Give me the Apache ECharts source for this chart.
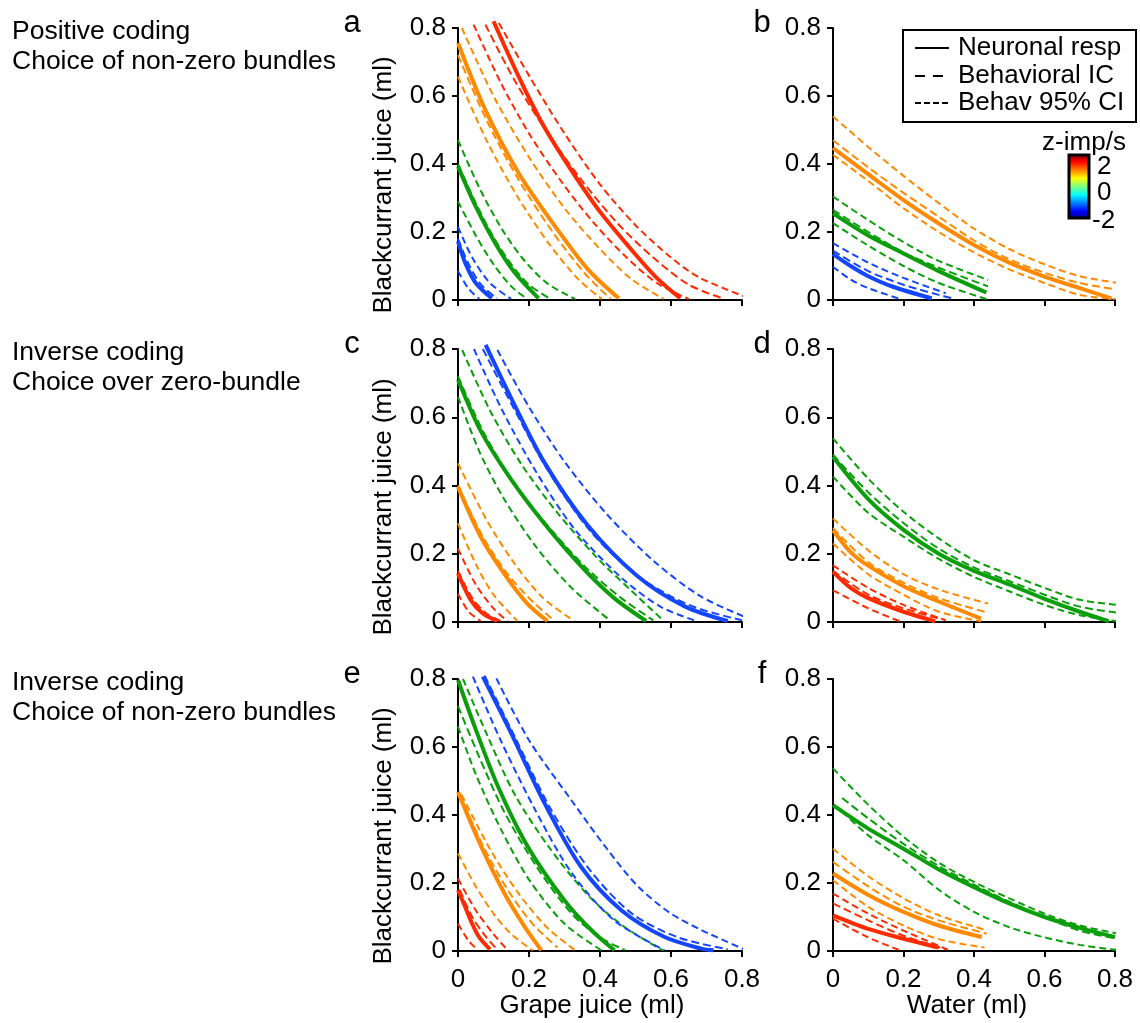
<!DOCTYPE html>
<html>
<head>
<meta charset="utf-8">
<script src="https://cdn.jsdelivr.net/npm/echarts@6/dist/echarts.min.js"></script>
<style>
html,body{margin:0;padding:0;background:#fff;}
#chart{width:1140px;height:1023px;}
</style>
</head>
<body>
<div id="chart"></div>
<script>
// ---- tick labels ----
const xTicks = [0, 0.2, 0.4, 0.6, 0.8];
const yTicks = [0, 0.2, 0.4, 0.6, 0.8];
const panelLetters = ['a', 'b', 'c', 'd', 'e', 'f'];
const rowTitles = [['Positive coding', 'Choice of non-zero bundles'], ['Inverse coding', 'Choice over zero-bundle'], ['Inverse coding', 'Choice of non-zero bundles']];
const xNames = ['Grape juice (ml)', 'Water (ml)'];
const yName = 'Blackcurrant juice (ml)';
const legendNames = ['Neuronal resp', 'Behavioral IC', 'Behav 95% CI'];
const colorbarTicks = ['2', '0', '-2'];

// ---- panel a (grape vs blackcurrant, positive coding) ----
const aBlueResp = [[0,0.172],[0.02,0.11],[0.05,0.05],[0.095,0.005]];
const aBlueIC = [[0,0.18],[0.03,0.105],[0.065,0.045],[0.11,0.005]];
const aBlueHi = [[0,0.215],[0.04,0.125],[0.09,0.05],[0.15,0.003]];
const aBlueLo = [[0,0.085],[0.03,0.033],[0.06,0.003]];
const aGreenResp = [[0,0.393],[0.05,0.275],[0.105,0.167],[0.16,0.08],[0.227,0.005]];
const aGreenIC = [[0,0.40],[0.05,0.285],[0.1,0.185],[0.15,0.105],[0.2,0.045],[0.26,0.003]];
const aGreenHi = [[0,0.47],[0.06,0.33],[0.12,0.215],[0.18,0.125],[0.25,0.05],[0.33,0.003]];
const aGreenLo = [[0,0.29],[0.05,0.19],[0.1,0.105],[0.15,0.04],[0.195,0.003]];
const aOrangeResp = [[0,0.756],[0.077,0.559],[0.171,0.373],[0.274,0.216],[0.368,0.088],[0.453,0.005]];
const aOrangeIC = [[0,0.72],[0.08,0.53],[0.17,0.355],[0.27,0.195],[0.36,0.075],[0.43,0.003]];
const aOrangeHi = [[0.011,0.80],[0.1,0.6],[0.2,0.42],[0.3,0.27],[0.4,0.15],[0.49,0.06],[0.58,0.003]];
const aOrangeLo = [[0,0.657],[0.08,0.47],[0.17,0.3],[0.26,0.16],[0.34,0.06],[0.405,0.003]];
const aRedResp = [[0.1,0.82],[0.171,0.657],[0.237,0.52],[0.312,0.393],[0.396,0.265],[0.481,0.157],[0.556,0.069],[0.626,0.005]];
const aRedIC = [[0.077,0.81],[0.16,0.645],[0.25,0.495],[0.35,0.35],[0.45,0.225],[0.55,0.125],[0.65,0.045],[0.75,0.003]];
const aRedHi = [[0.115,0.815],[0.2,0.66],[0.3,0.49],[0.4,0.34],[0.5,0.22],[0.6,0.125],[0.68,0.066],[0.82,0.005]];
const aRedLo = [[0.044,0.81],[0.12,0.64],[0.2,0.49],[0.29,0.35],[0.38,0.23],[0.47,0.13],[0.56,0.05],[0.65,0.003]];

// ---- panel b (water vs blackcurrant, positive coding) ----
const bBlueResp = [[0,0.135],[0.05,0.1],[0.1,0.07],[0.17,0.039],[0.28,0.005]];
const bBlueIC = [[0,0.145],[0.1,0.085],[0.2,0.045],[0.3,0.015],[0.34,0.005]];
const bBlueHi = [[0,0.167],[0.1,0.11],[0.2,0.065],[0.32,0.02]];
const bBlueLo = [[0,0.098],[0.05,0.06],[0.1,0.035],[0.19,0.003]];
const bGreenResp = [[0,0.255],[0.1,0.19],[0.2,0.137],[0.3,0.085],[0.435,0.022]];
const bGreenIC = [[0,0.265],[0.1,0.2],[0.2,0.14],[0.3,0.095],[0.44,0.04]];
const bGreenHi = [[0,0.304],[0.1,0.235],[0.2,0.17],[0.3,0.115],[0.44,0.059]];
const bGreenLo = [[0,0.226],[0.1,0.16],[0.2,0.1],[0.3,0.05],[0.435,0.003]];
const bOrangeResp = [[0,0.447],[0.1,0.37],[0.2,0.294],[0.3,0.225],[0.4,0.162],[0.5,0.11],[0.6,0.069],[0.7,0.035],[0.79,0.005]];
const bOrangeIC = [[0,0.47],[0.1,0.39],[0.2,0.315],[0.3,0.245],[0.4,0.175],[0.5,0.12],[0.6,0.08],[0.7,0.05],[0.81,0.03]];
const bOrangeHi = [[0,0.54],[0.1,0.45],[0.2,0.365],[0.3,0.285],[0.4,0.21],[0.5,0.15],[0.6,0.105],[0.7,0.07],[0.81,0.05]];
const bOrangeLo = [[0,0.427],[0.1,0.35],[0.2,0.27],[0.3,0.2],[0.4,0.14],[0.5,0.09],[0.6,0.05],[0.7,0.015],[0.8,0.003]];

// ---- panel c (grape vs blackcurrant, inverse coding, over zero-bundle) ----
const cRedResp = [[0,0.142],[0.036,0.064],[0.07,0.025],[0.11,0.003]];
const cRedIC = [[0,0.15],[0.04,0.07],[0.08,0.025],[0.12,0.003]];
const cRedHi = [[0,0.215],[0.05,0.11],[0.1,0.04],[0.139,0.003]];
const cRedLo = [[0,0.083],[0.03,0.03],[0.064,0.003]];
const cOrangeResp = [[0,0.396],[0.064,0.25],[0.13,0.142],[0.195,0.054],[0.252,0.003]];
const cOrangeIC = [[0,0.40],[0.07,0.25],[0.14,0.14],[0.21,0.06],[0.27,0.005]];
const cOrangeHi = [[0,0.465],[0.08,0.3],[0.16,0.17],[0.24,0.07],[0.327,0.003]];
const cOrangeLo = [[0,0.289],[0.05,0.17],[0.1,0.08],[0.167,0.003]];
const cGreenResp = [[0,0.71],[0.064,0.56],[0.148,0.42],[0.242,0.29],[0.35,0.16],[0.44,0.07],[0.53,0.003]];
const cGreenIC = [[0,0.72],[0.07,0.56],[0.15,0.42],[0.25,0.285],[0.36,0.16],[0.46,0.07],[0.55,0.005]];
const cGreenHi = [[0.012,0.797],[0.09,0.62],[0.18,0.46],[0.28,0.32],[0.39,0.19],[0.49,0.09],[0.58,0.003]];
const cGreenLo = [[0,0.66],[0.06,0.5],[0.13,0.36],[0.22,0.22],[0.32,0.1],[0.43,0.003]];
const cBlueResp = [[0.078,0.812],[0.148,0.66],[0.242,0.47],[0.364,0.285],[0.505,0.135],[0.64,0.045],[0.76,0.003]];
const cBlueIC = [[0.07,0.8],[0.15,0.64],[0.25,0.45],[0.37,0.27],[0.5,0.14],[0.65,0.05],[0.8,0.005]];
const cBlueHi = [[0.111,0.797],[0.2,0.63],[0.3,0.47],[0.42,0.315],[0.55,0.18],[0.684,0.075],[0.82,0.01]];
const cBlueLo = [[0.045,0.8],[0.12,0.63],[0.22,0.44],[0.33,0.27],[0.46,0.13],[0.57,0.045],[0.665,0.005]];

// ---- panel d (water vs blackcurrant, inverse coding, over zero-bundle) ----
const dRedResp = [[0,0.147],[0.05,0.1],[0.1,0.07],[0.2,0.03],[0.29,0.002]];
const dRedIC = [[0,0.15],[0.1,0.08],[0.2,0.04],[0.3,0.01]];
const dRedHi = [[0,0.166],[0.1,0.1],[0.2,0.05],[0.32,0.005]];
const dRedLo = [[0,0.093],[0.1,0.04],[0.19,0.002]];
const dOrangeResp = [[0,0.269],[0.05,0.205],[0.1,0.165],[0.2,0.105],[0.3,0.06],[0.42,0.01]];
const dOrangeIC = [[0,0.275],[0.1,0.175],[0.2,0.115],[0.3,0.07],[0.43,0.03]];
const dOrangeHi = [[0,0.303],[0.1,0.21],[0.2,0.14],[0.3,0.095],[0.44,0.054]];
const dOrangeLo = [[0,0.23],[0.1,0.14],[0.2,0.08],[0.3,0.03],[0.42,0.002]];
const dGreenResp = [[0,0.484],[0.1,0.36],[0.2,0.27],[0.3,0.2],[0.4,0.15],[0.5,0.11],[0.6,0.068],[0.7,0.03],[0.783,0.002]];
const dGreenIC = [[0,0.49],[0.1,0.38],[0.2,0.29],[0.3,0.215],[0.4,0.16],[0.5,0.12],[0.6,0.08],[0.7,0.045],[0.816,0.026]];
const dGreenHi = [[0,0.538],[0.1,0.42],[0.2,0.323],[0.3,0.245],[0.4,0.181],[0.5,0.14],[0.6,0.1],[0.7,0.065],[0.816,0.049]];
const dGreenLo = [[0,0.426],[0.1,0.32],[0.2,0.25],[0.3,0.185],[0.4,0.132],[0.5,0.09],[0.6,0.05],[0.7,0.02],[0.807,0.002]];

// ---- panel e (grape vs blackcurrant, inverse coding, non-zero bundles) ----
const eRedResp = [[0,0.179],[0.02,0.13],[0.04,0.08],[0.06,0.04],[0.09,0.005]];
const eRedIC = [[0.005,0.18],[0.04,0.1],[0.08,0.04],[0.11,0.005]];
const eRedHi = [[0,0.213],[0.05,0.12],[0.1,0.05],[0.14,0.002]];
const eRedLo = [[0,0.08],[0.03,0.03],[0.056,0.002]];
const eOrangeResp = [[0,0.468],[0.066,0.306],[0.131,0.169],[0.188,0.071],[0.235,0.002]];
const eOrangeIC = [[0.005,0.46],[0.07,0.31],[0.14,0.18],[0.21,0.08],[0.28,0.01]];
const eOrangeHi = [[0.01,0.46],[0.09,0.3],[0.17,0.17],[0.25,0.07],[0.33,0.002]];
const eOrangeLo = [[0,0.287],[0.05,0.19],[0.1,0.11],[0.15,0.05],[0.21,0.002]];
const eGreenResp = [[0,0.797],[0.047,0.66],[0.113,0.483],[0.197,0.306],[0.3,0.149],[0.376,0.061],[0.441,0.002]];
const eGreenIC = [[0,0.72],[0.06,0.57],[0.13,0.41],[0.22,0.25],[0.32,0.11],[0.4,0.04],[0.47,0.003]];
const eGreenHi = [[0.014,0.8],[0.08,0.64],[0.16,0.46],[0.26,0.3],[0.37,0.16],[0.47,0.07],[0.577,0.002]];
const eGreenLo = [[0,0.66],[0.05,0.52],[0.12,0.36],[0.2,0.21],[0.3,0.08],[0.404,0.002]];
const eBlueResp = [[0.07,0.807],[0.15,0.64],[0.244,0.434],[0.347,0.247],[0.46,0.12],[0.582,0.041],[0.685,0.007],[0.72,0.002]];
const eBlueIC = [[0.075,0.81],[0.16,0.63],[0.26,0.42],[0.37,0.24],[0.49,0.11],[0.62,0.04],[0.76,0.005]];
const eBlueHi = [[0.108,0.802],[0.2,0.62],[0.319,0.444],[0.42,0.3],[0.507,0.19],[0.6,0.11],[0.685,0.062],[0.81,0.003]];
const eBlueLo = [[0.042,0.807],[0.12,0.62],[0.22,0.41],[0.32,0.23],[0.44,0.09],[0.582,0.002]];

// ---- panel f (water vs blackcurrant, inverse coding, non-zero bundles) ----
const fRedResp = [[0,0.105],[0.1,0.065],[0.2,0.036],[0.3,0.01]];
const fRedIC = [[0,0.14],[0.1,0.09],[0.2,0.045],[0.32,0.005]];
const fRedHi = [[0,0.169],[0.1,0.11],[0.2,0.06],[0.33,0.002]];
const fRedLo = [[0,0.095],[0.1,0.04],[0.19,0.002]];
const fOrangeResp = [[0,0.228],[0.1,0.165],[0.2,0.115],[0.3,0.075],[0.422,0.041]];
const fOrangeIC = [[0,0.262],[0.1,0.19],[0.2,0.13],[0.3,0.09],[0.436,0.051]];
const fOrangeHi = [[0,0.301],[0.1,0.22],[0.2,0.155],[0.3,0.105],[0.436,0.061]];
const fOrangeLo = [[0,0.208],[0.1,0.13],[0.2,0.075],[0.3,0.035],[0.43,0.01]];
const fGreenResp = [[0,0.429],[0.1,0.36],[0.2,0.301],[0.3,0.24],[0.4,0.188],[0.5,0.14],[0.6,0.1],[0.7,0.068],[0.8,0.041]];
const fGreenIC = [[0.026,0.45],[0.1,0.39],[0.2,0.315],[0.3,0.25],[0.4,0.195],[0.5,0.145],[0.6,0.1],[0.7,0.06],[0.81,0.035]];
const fGreenHi = [[0,0.537],[0.1,0.43],[0.2,0.336],[0.3,0.26],[0.4,0.203],[0.5,0.155],[0.6,0.11],[0.7,0.075],[0.81,0.051]];
const fGreenLo = [[0.026,0.41],[0.1,0.34],[0.2,0.267],[0.3,0.18],[0.4,0.115],[0.5,0.07],[0.6,0.04],[0.7,0.018],[0.813,0.002]];

// ---- colours ----
const RED = '#ff2a00', ORANGE = '#ff8a00', GREEN = '#0a9e0a', BLUE = '#1446ff';
const FONT = '"Liberation Sans", Arial, Helvetica, sans-serif';

const panels = [
  [[BLUE, aBlueResp, aBlueIC, aBlueHi, aBlueLo], [GREEN, aGreenResp, aGreenIC, aGreenHi, aGreenLo], [ORANGE, aOrangeResp, aOrangeIC, aOrangeHi, aOrangeLo], [RED, aRedResp, aRedIC, aRedHi, aRedLo]],
  [[BLUE, bBlueResp, bBlueIC, bBlueHi, bBlueLo], [GREEN, bGreenResp, bGreenIC, bGreenHi, bGreenLo], [ORANGE, bOrangeResp, bOrangeIC, bOrangeHi, bOrangeLo]],
  [[RED, cRedResp, cRedIC, cRedHi, cRedLo], [ORANGE, cOrangeResp, cOrangeIC, cOrangeHi, cOrangeLo], [GREEN, cGreenResp, cGreenIC, cGreenHi, cGreenLo], [BLUE, cBlueResp, cBlueIC, cBlueHi, cBlueLo]],
  [[RED, dRedResp, dRedIC, dRedHi, dRedLo], [ORANGE, dOrangeResp, dOrangeIC, dOrangeHi, dOrangeLo], [GREEN, dGreenResp, dGreenIC, dGreenHi, dGreenLo]],
  [[RED, eRedResp, eRedIC, eRedHi, eRedLo], [ORANGE, eOrangeResp, eOrangeIC, eOrangeHi, eOrangeLo], [GREEN, eGreenResp, eGreenIC, eGreenHi, eGreenLo], [BLUE, eBlueResp, eBlueIC, eBlueHi, eBlueLo]],
  [[RED, fRedResp, fRedIC, fRedHi, fRedLo], [ORANGE, fOrangeResp, fOrangeIC, fOrangeHi, fOrangeLo], [GREEN, fGreenResp, fGreenIC, fGreenHi, fGreenLo]]
];

const gridDefs = [
  {left: 458, top: 28, width: 284, height: 272},
  {left: 833, top: 28, width: 282, height: 272},
  {left: 458, top: 349, width: 284, height: 273},
  {left: 833, top: 349, width: 282, height: 273},
  {left: 458, top: 679, width: 284, height: 272},
  {left: 833, top: 679, width: 282, height: 272}
];

const grid = gridDefs.map(g => Object.assign({containLabel: false}, g));
const axisCommon = {
  type: 'value', min: 0, max: 0.8, interval: 0.2,
  axisLine: {show: true, onZero: false, lineStyle: {color: '#000', width: 2}},
  axisTick: {show: true, length: 6, lineStyle: {color: '#000', width: 2}},
  splitLine: {show: false}
};
const xAxis = gridDefs.map((g, i) => Object.assign({}, axisCommon, {
  gridIndex: i,
  axisLabel: {show: i >= 4, fontSize: 26, color: '#000', fontFamily: FONT, margin: 16,
    formatter: v => { const k = xTicks.indexOf(Math.round(v * 10) / 10); return k >= 0 ? String(xTicks[k]) : ''; }}
}));
const yAxis = gridDefs.map((g, i) => Object.assign({}, axisCommon, {
  gridIndex: i,
  axisLabel: {show: true, fontSize: 26, color: '#000', fontFamily: FONT, margin: 12,
    formatter: v => { const k = yTicks.indexOf(Math.round(v * 10) / 10); return k >= 0 ? String(yTicks[k]) : ''; }}
}));

const series = [];
function addLine(gi, data, color, kind) {
  series.push({
    type: 'line', xAxisIndex: gi, yAxisIndex: gi, data: data,
    symbol: 'none', clip: false, smooth: 0.3, silent: true,
    z: kind === 'resp' ? 3 : 2,
    lineStyle: {color: color, width: kind === 'resp' ? 4 : 2,
      type: kind === 'resp' ? 'solid' : (kind === 'ic' ? [8, 4] : [7, 4])}
  });
}
panels.forEach((groups, gi) => {
  groups.forEach(g => {
    addLine(gi, g[3], g[0], 'ci');
    addLine(gi, g[4], g[0], 'ci');
    addLine(gi, g[2], g[0], 'ic');
  });
  groups.forEach(g => addLine(gi, g[1], g[0], 'resp'));
});

// ---- decorations (text as real text) ----
const graphic = [];
function txt(t, x, y, size, align, rot) {
  graphic.push({type: 'text', x: x, y: y, rotation: rot || 0, silent: true,
    style: {text: t, fill: '#000', font: size + 'px ' + FONT, textAlign: align || 'left', textVerticalAlign: 'middle'}});
}
const rowTops = [28, 349, 679];
const rowBottoms = [300, 622, 951];
rowTitles.forEach((rt, r) => {
  txt(rt[0], 12, rowTops[r] + 4, 26.5, 'left');
  txt(rt[1], 12, rowTops[r] + 34, 26.5, 'left');
  txt(panelLetters[2 * r], 352, rowTops[r] - 5, 31, 'center');
  txt(panelLetters[2 * r + 1], 762, rowTops[r] - 5, 31, 'center');
  txt(yName, 384, rowBottoms[r] - 115, 26, 'center', Math.PI / 2);
});
txt(xNames[0], 592, 1006, 26, 'center');
txt(xNames[1], 967, 1006, 26, 'center');

// legend box
graphic.push({type: 'rect', silent: true, shape: {x: 903, y: 30, width: 233, height: 92}, style: {fill: '#fff', stroke: '#000', lineWidth: 2}, z: 10});
const legY = [48, 76, 103];
const legDash = [null, [10, 8], [6, 3]];
legendNames.forEach((n, i) => {
  graphic.push({type: 'line', silent: true, z: 11, shape: {x1: 915, y1: legY[i], x2: 949, y2: legY[i]},
    style: {stroke: '#000', lineWidth: 2, lineDash: legDash[i]}});
  graphic.push({type: 'text', silent: true, z: 11, x: 958, y: legY[i],
    style: {text: n, fill: '#000', font: '26px ' + FONT, textAlign: 'left', textVerticalAlign: 'middle'}});
});

// colour bar (jet)
graphic.push({type: 'rect', silent: true, shape: {x: 1069, y: 155, width: 20, height: 63},
  style: {stroke: '#000', lineWidth: 3,
    fill: {type: 'linear', x: 0, y: 0, x2: 0, y2: 1, colorStops: [
      {offset: 0, color: '#800000'}, {offset: 0.125, color: '#ff0000'}, {offset: 0.375, color: '#ffff00'},
      {offset: 0.625, color: '#00ffff'}, {offset: 0.875, color: '#0000ff'}, {offset: 1, color: '#000080'}]}}});
txt('z-imp/s', 1084, 143, 26, 'center');
txt(colorbarTicks[0], 1097, 167, 26, 'left');
txt(colorbarTicks[1], 1097, 193, 26, 'left');
txt(colorbarTicks[2], 1092, 221, 26, 'left');

const chart = echarts.init(document.getElementById('chart'), null, {renderer: 'canvas'});
chart.setOption({
  animation: false,
  backgroundColor: '#fff',
  grid: grid, xAxis: xAxis, yAxis: yAxis, series: series, graphic: graphic
});
</script>
</body>
</html>
